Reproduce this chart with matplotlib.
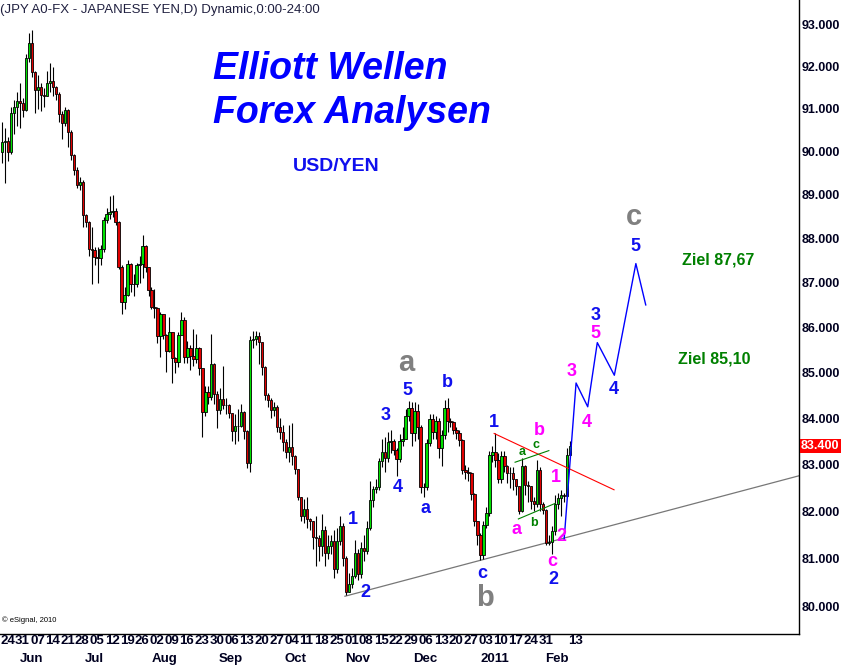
import matplotlib
matplotlib.use("Agg")
import matplotlib.pyplot as plt
from matplotlib.ticker import NullLocator

plt.rcParams['font.family'] = ['Liberation Sans', 'DejaVu Sans']

# daily USD/JPY bars (open = previous close)
first_open = 90.00
closes = [
    90.23, 90.25, 90.00, 90.91, 91.05, 91.18, 91.13, 90.97, 92.20, 92.56,
    91.88, 91.44, 91.51, 91.32, 91.30, 91.62, 91.66, 91.51, 91.36, 90.89,
    90.66, 90.97, 90.46, 89.92, 89.58, 89.23, 89.29, 88.54, 88.38, 87.76,
    87.74, 87.59, 87.56, 87.76, 88.42, 88.55, 88.61, 88.63, 88.38, 87.36,
    86.57, 86.72, 87.41, 86.98, 86.96, 87.40, 87.42, 87.82, 87.36, 86.83,
    86.46, 86.44, 85.81, 86.30, 85.83, 85.48, 85.89, 85.32, 85.24, 85.84,
    86.16, 85.34, 85.54, 85.37, 85.30, 85.54, 85.10, 84.13, 84.57, 84.46,
    85.19, 84.53, 84.18, 84.41, 84.29, 84.28, 84.11, 83.73, 83.83, 83.84,
    84.13, 83.72, 83.03, 85.72, 85.74, 85.81, 85.67, 85.13, 84.51, 84.39,
    84.18, 84.24, 83.82, 83.71, 83.48, 83.28, 83.38, 83.19, 82.91, 82.31,
    81.90, 82.06, 81.83, 81.79, 81.45, 81.44, 81.26, 81.60, 81.12, 81.26,
    81.37, 80.79, 81.38, 81.69, 81.02, 80.30, 80.48, 80.65, 81.12, 80.69,
    81.23, 81.16, 81.65, 82.25, 82.48, 82.51, 83.07, 83.28, 83.14, 83.48,
    83.50, 83.31, 83.12, 83.51, 83.55, 84.05, 84.22, 83.68, 84.15, 83.82,
    82.53, 82.52, 83.46, 83.98, 83.71, 83.93, 83.36, 83.64, 84.22, 83.93,
    83.92, 83.75, 83.69, 83.53, 82.89, 82.85, 82.82, 82.36, 81.79, 81.51,
    81.09, 81.72, 81.97, 83.21, 83.28, 83.10, 82.68, 83.19, 82.96, 82.82,
    82.81, 82.68, 82.54, 82.00, 82.96, 82.57, 82.54, 82.22, 82.15, 82.89,
    82.15, 82.04, 81.34, 81.35, 81.58, 82.15, 82.29, 82.34, 82.33, 83.21,
    83.40,
]
highs = [
    90.70, 90.55, 90.35, 91.05, 91.20, 91.40, 91.60, 91.25, 92.30, 92.80,
    92.88, 91.90, 91.80, 91.60, 91.50, 91.90, 92.09, 92.00, 91.55, 91.40,
    90.95, 91.05, 91.00, 90.50, 89.95, 89.65, 89.40, 89.35, 88.55, 88.40,
    88.27, 87.80, 87.80, 87.85, 88.50, 88.70, 88.97, 89.00, 88.70, 88.40,
    87.40, 86.90, 87.50, 87.45, 87.20, 87.45, 87.60, 88.08, 87.85, 87.35,
    86.90, 86.85, 86.45, 86.35, 86.30, 85.85, 86.22, 85.90, 85.35, 85.90,
    86.35, 86.22, 85.70, 85.60, 85.96, 85.85, 85.57, 85.08, 84.70, 84.71,
    85.85, 85.20, 84.60, 84.65, 85.15, 84.45, 84.30, 84.10, 84.10, 84.20,
    84.30, 84.15, 83.75, 85.80, 85.92, 85.92, 85.90, 85.65, 85.15, 84.55,
    84.45, 84.35, 84.28, 84.00, 83.85, 83.55, 83.86, 83.90, 83.20, 82.90,
    82.30, 82.26, 82.30, 81.85, 81.80, 81.90, 81.50, 81.95, 81.70, 81.50,
    81.50, 81.60, 81.65, 81.90, 81.75, 81.05, 80.70, 80.80, 81.40, 81.20,
    81.35, 81.50, 81.80, 82.65, 82.55, 82.70, 83.15, 83.55, 83.60, 83.70,
    83.75, 83.55, 83.35, 83.65, 83.80, 84.20, 84.38, 84.35, 84.35, 84.30,
    83.85, 82.60, 83.55, 84.10, 84.10, 84.05, 84.00, 83.75, 84.40, 84.45,
    84.00, 83.95, 83.80, 83.75, 83.55, 83.00, 82.95, 82.85, 82.40, 81.65,
    81.55, 81.80, 82.10, 83.30, 83.40, 83.68, 83.25, 83.30, 83.30, 83.00,
    82.95, 82.95, 82.70, 82.55, 83.15, 83.00, 82.65, 82.55, 82.30, 83.10,
    82.95, 82.20, 82.05, 81.50, 81.70, 82.35, 82.40, 82.45, 82.40, 83.35,
    83.50,
]
lows = [
    89.73, 89.27, 89.77, 89.95, 90.40, 90.60, 90.55, 90.80, 90.95, 92.10,
    91.75, 90.90, 91.00, 90.95, 91.05, 91.30, 91.40, 91.30, 91.20, 90.70,
    90.30, 90.60, 90.10, 89.80, 89.45, 89.15, 89.10, 88.27, 88.25, 87.60,
    86.97, 87.40, 87.00, 87.40, 87.70, 88.35, 88.45, 88.50, 88.30, 87.30,
    86.30, 86.40, 86.70, 86.80, 86.70, 86.90, 87.00, 87.10, 87.25, 86.70,
    86.40, 86.20, 85.65, 85.35, 85.75, 85.02, 85.45, 84.76, 85.00, 85.13,
    85.82, 85.20, 85.20, 85.05, 85.15, 85.20, 84.95, 83.60, 84.05, 84.30,
    84.40, 84.30, 83.78, 84.10, 84.20, 84.10, 84.00, 83.51, 83.45, 83.50,
    83.80, 83.55, 82.92, 82.85, 85.55, 85.60, 85.18, 84.95, 84.40, 84.25,
    84.00, 84.05, 83.70, 83.55, 83.30, 83.15, 83.05, 83.00, 82.80, 82.25,
    81.80, 81.75, 81.65, 81.60, 81.20, 80.84, 80.95, 81.05, 80.85, 81.00,
    81.10, 80.60, 80.70, 81.30, 80.85, 80.25, 80.30, 80.40, 80.60, 80.55,
    80.60, 80.95, 81.10, 81.60, 82.10, 82.40, 82.45, 82.95, 82.85, 83.05,
    83.25, 83.20, 82.75, 83.05, 83.40, 83.55, 83.95, 83.40, 83.50, 83.55,
    82.40, 82.30, 82.45, 83.40, 83.55, 83.55, 83.14, 82.97, 83.55, 83.70,
    83.80, 83.65, 83.55, 83.40, 82.80, 82.70, 82.65, 82.25, 81.70, 81.30,
    80.98, 81.00, 81.65, 81.90, 83.05, 82.95, 82.60, 82.60, 82.85, 82.60,
    82.50, 82.45, 82.35, 81.95, 81.98, 82.35, 82.20, 82.05, 82.00, 82.10,
    82.00, 81.95, 81.30, 81.30, 81.10, 81.50, 82.05, 81.90, 82.20, 82.30,
    83.25,
]
opens = [first_open] + closes[:-1]

day_labels = ['24', '31', '07', '14', '21', '28', '05', '12', '19', '26',
              '02', '09', '16', '23', '30', '06', '13', '20', '27', '04',
              '11', '18', '25', '01', '08', '15', '22', '29', '06', '13',
              '20', '27', '03', '10', '17', '24', '31', '13']
day_pos = [5 * k for k in range(37)] + [190]
month_labels = ['Jun', 'Jul', 'Aug', 'Sep', 'Oct', 'Nov', 'Dec', '2011', 'Feb']
month_pos = [10, 31, 54.5, 76.6, 98, 119, 141.5, 165, 185.6]
price_ticks = list(range(80, 94))
last_price = 83.40

# forecast path (blue) and drawn trend lines
proj_x = [188, 192, 195.9, 199.1, 204.8, 212, 215.3]
proj_y = [81.40, 84.77, 84.25, 85.66, 84.94, 87.43, 86.50]
trend_x = [114.7, 266.6]
trend_y = [80.22, 82.76]
red_x = [164.6, 204.7]
red_y = [83.67, 82.46]
grn_up_x = [171.6, 182.9]
grn_up_y = [83.05, 83.30]
grn_lo_x = [172.7, 185.0]
grn_lo_y = [81.84, 82.17]

# wave counts
blue_txt = ['1', '2', '3', '4', '5', 'a', 'b', '1', 'c', '2', '3', '4', '5']
blue_x = [117.4, 121.4, 128.4, 132.4, 135.5, 141.5, 148.8, 164.5, 160.5, 184.3, 198.7, 204.7, 211.7]
blue_y = [81.83, 80.30, 84.07, 82.50, 84.60, 82.06, 84.77, 83.90, 80.70, 80.56, 86.27, 84.62, 87.82]
gray_txt = ['a', 'b', 'c']
gray_x = [135.1, 161.5, 211.4]
gray_y = [85.20, 80.18, 88.48]
mag_txt = ['3', '5', '4', '1', '2', 'b', 'a', 'c']
mag_x = [190.5, 198.6, 195.6, 185.3, 187.2, 179.7, 172.1, 184.1]
mag_y = [85.02, 85.87, 83.90, 82.72, 81.47, 83.73, 81.61, 80.95]
grn_txt = ['a', 'c', 'b']
grn_x = [173.8, 178.7, 177.9]
grn_y = [83.28, 83.42, 81.75]

W, H = 842, 666
fig = plt.figure(figsize=(W / 100, H / 100), dpi=100)
ax = fig.add_axes([0, 32 / H, 799 / W, 634 / H])
ax.set_yscale('log')
ax.set_xlim(-0.669, 266.56)
ax.set_ylim(79.44, 93.60)

for s in ['left', 'top']:
    ax.spines[s].set_visible(False)
ax.spines['right'].set_linewidth(1.0)
ax.spines['bottom'].set_linewidth(1.0)

# candles
xs = list(range(len(closes)))
ax.vlines(xs, lows, highs, color='black', linewidth=0.8, zorder=2)
for i in xs:
    o, c = opens[i], closes[i]
    col = '#00e000' if c >= o else '#e00000'
    bottom = min(o, c)
    height = max(abs(c - o), 0.004)
    ax.bar(i, height, bottom=bottom, width=0.8, color=col,
           edgecolor='black', linewidth=0.6, zorder=3)

ax.plot(trend_x, trend_y, color='#777777', linewidth=0.9, zorder=1)
ax.plot(red_x, red_y, color='#ff0000', linewidth=0.8, zorder=4)
ax.plot(grn_up_x, grn_up_y, color='#008000', linewidth=0.8, zorder=4)
ax.plot(grn_lo_x, grn_lo_y, color='#008000', linewidth=0.8, zorder=4)
ax.plot(proj_x, proj_y, color='#0000ff', linewidth=1.0, zorder=4)

for t, x, y in zip(blue_txt, blue_x, blue_y):
    ax.text(x, y, t, color='#1010ee', fontsize=13, fontweight='bold', ha='center', va='center', zorder=5)
for t, x, y in zip(gray_txt, gray_x, gray_y):
    ax.text(x, y, t, color='#808080', fontsize=21, fontweight='bold', ha='center', va='center', zorder=5)
for t, x, y in zip(mag_txt, mag_x, mag_y):
    ax.text(x, y, t, color='#ff00ff', fontsize=13, fontweight='bold', ha='center', va='center', zorder=5)
for t, x, y in zip(grn_txt, grn_x, grn_y):
    ax.text(x, y, t, color='#008000', fontsize=9, fontweight='bold', ha='center', va='center', zorder=5)

# price axis on the right
ax.yaxis.tick_right()
ax.set_yticks(price_ticks, labels=[f'{p:.3f}' for p in price_ticks],
              fontsize=9, fontweight='bold', color='#000020')
ax.yaxis.set_minor_locator(NullLocator())
ax.tick_params(axis='y', length=0, pad=2)
ax.text(1.0 + 2 / 799, last_price, f'{last_price:.3f}', transform=ax.get_yaxis_transform(),
        color='white', fontsize=9, fontweight='bold', ha='left', va='center',
        bbox=dict(facecolor='#ff0000', edgecolor='none', pad=0.8))

# date axis
ax.set_xticks([])
for t, x in zip(day_labels, day_pos):
    ax.text(x - 0.6, -7 / 634, t, transform=ax.get_xaxis_transform(),
            fontsize=9.5, fontweight='bold', ha='left', va='center', color='#000020')
for t, x in zip(month_labels, month_pos):
    ax.text(x, -25 / 634, t, transform=ax.get_xaxis_transform(),
            fontsize=9.5, fontweight='bold', ha='center', va='center', color='#000020')

# headings
fig.text(0, 1 - 13 / H, '(JPY A0-FX - JAPANESE YEN,D) Dynamic,0:00-24:00',
         fontsize=9.5, color='#202040', ha='left', va='baseline')
fig.text(213 / W, 1 - 79 / H, 'Elliott Wellen', fontsize=27, fontweight='bold',
         fontstyle='italic', color='#0000ff', ha='left', va='baseline')
fig.text(213 / W, 1 - 123 / H, 'Forex Analysen', fontsize=27, fontweight='bold',
         fontstyle='italic', color='#0000ff', ha='left', va='baseline')
fig.text(293 / W, 1 - 171 / H, 'USD/YEN', fontsize=14, fontweight='bold',
         color='#1010ee', ha='left', va='baseline')
fig.text(718 / W, 1 - 260 / H, 'Ziel 87,67', fontsize=11.5, fontweight='bold',
         color='#008000', ha='center', va='center')
fig.text(714.5 / W, 1 - 359 / H, 'Ziel 85,10', fontsize=11.5, fontweight='bold',
         color='#008000', ha='center', va='center')
fig.text(2 / W, 1 - 620 / H, '\u00a9 eSignal, 2010', fontsize=5.5, color='black',
         ha='left', va='center')

fig.savefig('out.png', dpi=100)
